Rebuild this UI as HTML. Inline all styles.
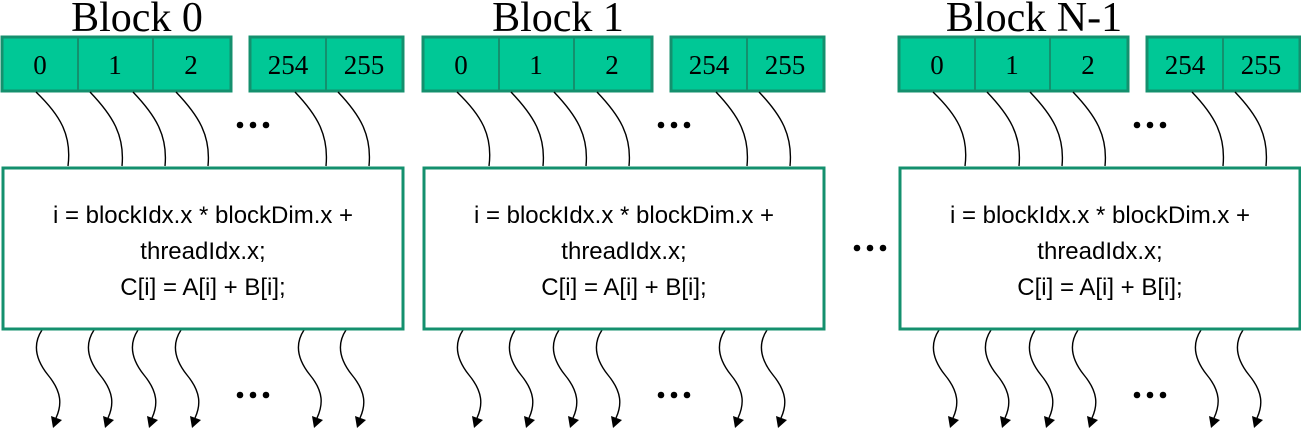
<!DOCTYPE html>
<html><head><style>body{margin:0;background:#fff}</style></head><body>
<svg width="1301" height="428" viewBox="0 0 1301 428" xmlns="http://www.w3.org/2000/svg">
<defs>
<g id="blk">
<g fill="#00c896" stroke="#14906e" stroke-width="3">
<rect x="2" y="37" width="229" height="54"/><rect x="250" y="37" width="153" height="54"/>
</g>
<g stroke="#14906e" stroke-width="2"><line x1="78" y1="38" x2="78" y2="90"/><line x1="153" y1="38" x2="153" y2="90"/><line x1="326" y1="38" x2="326" y2="90"/></g>
<g font-family="Liberation Serif, serif" font-size="27" text-anchor="middle">
<text x="40" y="74">0</text><text x="115" y="74">1</text><text x="191" y="74">2</text><text x="288" y="74">254</text><text x="364" y="74">255</text></g>
<g fill="none" stroke="#000" stroke-width="1.4">
<path d="M36 92 C60 115,72 135,68 166"/><path d="M90 92 C112 115,125 135,122 166"/><path d="M133 92 C155 115,168 135,165 166"/><path d="M176 92 C198 115,211 135,208 166"/><path d="M295 92 C317 115,329 135,326 166"/><path d="M338 92 C360 115,372 135,369 166"/>
<path d="M42 330 C32 345,36 360,48 375 C62 392,62 405,56 418"/><path d="M94 330 C84 345,88 360,100 375 C114 392,114 405,108 418"/><path d="M138 330 C128 345,132 360,144 375 C158 392,158 405,152 418"/><path d="M181 330 C171 345,175 360,187 375 C201 392,201 405,195 418"/><path d="M304 330 C294 345,298 360,310 375 C324 392,323 405,317 418"/><path d="M346 330 C336 345,340 360,352 375 C366 392,366 405,360 418"/>
</g>
<g fill="#000">
<path d="M51 416 L62 420 L53 428 Z"/><path d="M103 416 L114 420 L105 428 Z"/><path d="M147 416 L158 420 L149 428 Z"/><path d="M190 416 L201 420 L192 428 Z"/><path d="M312 416 L323 420 L314 428 Z"/><path d="M355 416 L366 420 L357 428 Z"/>
</g>
<rect x="3" y="168" width="400" height="161" fill="#fff" stroke="#14906e" stroke-width="3"/>
<g font-family="Liberation Sans, sans-serif" font-size="24" text-anchor="middle">
<text x="203" y="223">i = blockIdx.x  * blockDim.x +</text><text x="203" y="259">threadIdx.x;</text><text x="203" y="295">C[i] = A[i] + B[i];</text></g>
<g fill="#000"><circle cx="240" cy="125" r="3.3"/><circle cx="253" cy="125" r="3.3"/><circle cx="266" cy="125" r="3.3"/><circle cx="240" cy="395" r="3.3"/><circle cx="253" cy="395" r="3.3"/><circle cx="266" cy="395" r="3.3"/></g>
</g>
</defs>
<g font-family="Liberation Serif, serif" font-size="42" text-anchor="middle">
<text x="137" y="31">Block 0</text><text x="558" y="31">Block 1</text><text x="1034" y="31">Block N-1</text></g>
<use href="#blk"/>
<use href="#blk" transform="translate(421,0)"/>
<use href="#blk" transform="translate(897,0)"/>
<g fill="#000"><circle cx="857" cy="248" r="3.3"/><circle cx="870" cy="248" r="3.3"/><circle cx="883" cy="248" r="3.3"/></g>
</svg>
</body></html>
